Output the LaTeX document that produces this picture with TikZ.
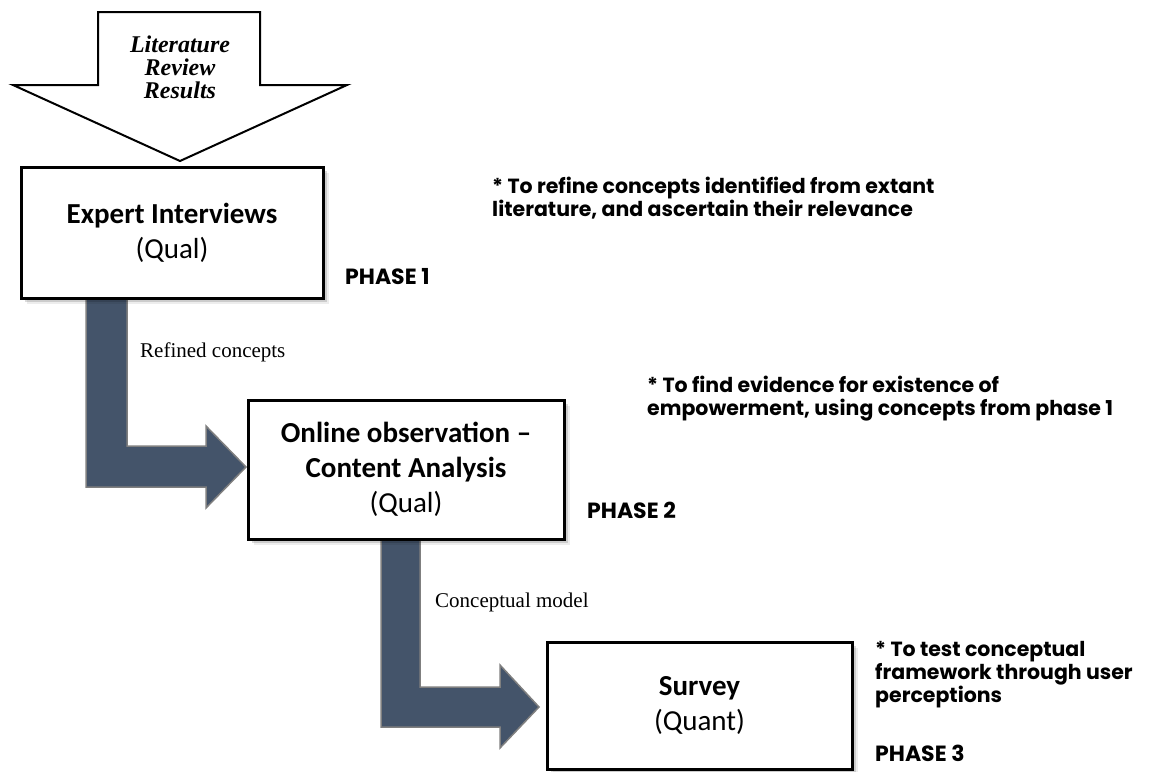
\documentclass[tikz,border=0pt]{standalone}
\usepackage{fontspec}
\setmainfont{Carlito}
\newfontfamily\serifface{Liberation Serif}
\newfontfamily\noteface{Poppins}
\usetikzlibrary{shadows}
\definecolor{arrowfill}{HTML}{44546A}
\definecolor{arrowedge}{HTML}{7F7F7F}
\tikzset{
  stagebox/.style={draw=black, line width=3pt, fill=white, align=center,
    font=\fontsize{29}{35}\selectfont,
    drop shadow={shadow xshift=2pt, shadow yshift=-2pt, opacity=.22, fill=black},
    drop shadow={shadow xshift=4pt, shadow yshift=-4pt, opacity=.14, fill=black},
    drop shadow={shadow xshift=6pt, shadow yshift=-6pt, opacity=.07, fill=black}},
  flowarrow/.style={fill=arrowfill, draw=arrowedge, line width=1.5pt, line join=miter},
  inarrow/.style={fill=white, draw=black, line width=2pt, line join=miter},
  flowlabel/.style={anchor=west, inner sep=0pt, font=\serifface\fontsize{21}{24}\selectfont},
  note/.style={anchor=west, inner sep=0pt, align=left, font=\noteface\bfseries\fontsize{20.5}{23}\selectfont},
  phase/.style={anchor=west, inner sep=0pt, font=\noteface\bfseries\fontsize{22}{24}\selectfont},
}
\begin{document}
\begin{tikzpicture}[x=1pt, y=-1pt]
  \useasboundingbox (0,0) rectangle (1155,771);

  % incoming block arrow from the literature review
  \draw[inarrow] (98,12) -- (260,12) -- (260,85) -- (347,85) -- (180,161)
    -- (13,85) -- (98,85) -- cycle;
  \node[align=center, inner sep=0pt,
    font=\serifface\bfseries\itshape\fontsize{24}{23}\selectfont] (lit) at (180,67)
    {Literature\\Review\\Results};

  % bent arrows between the phases (drawn first, boxes sit on top)
  \draw[flowarrow] (86,299) -- (127,299) -- (127,446) -- (206,446) -- (206,426)
    -- (246,467) -- (206,508) -- (206,487) -- (86,487) -- cycle;
  \draw[flowarrow] (381,540) -- (420,540) -- (420,687) -- (500,687) -- (500,665)
    -- (539,707) -- (500,748) -- (500,727) -- (381,727) -- cycle;

  % the three phases
  \node[stagebox, minimum width=302pt, minimum height=131pt] (expert) at (172,232.5)
    {\textbf{Expert Interviews}\\(Qual)};
  \node[stagebox, minimum width=316pt, minimum height=139pt] (online) at (406,469.5)
    {\textbf{Online observation --}\\\textbf{Content Analysis}\\(Qual)};
  \node[stagebox, minimum width=305pt, minimum height=127pt] (survey) at (699.5,705.5)
    {\textbf{Survey}\\(Quant)};

  % labels on the bent arrows
  \node[flowlabel] (refined) at (140,352) {Refined concepts};
  \node[flowlabel] (concept) at (435,602) {Conceptual model};

  % phase tags
  \node[phase] (p1) at (345,277) {PHASE 1};
  \node[phase] (p2) at (587,510) {PHASE 2};
  \node[phase] (p3) at (875,753) {PHASE 3};

  % purpose notes
  \node[note] (n1) at (492,198.5)
    {* To refine concepts identified from extant\\literature, and ascertain their relevance};
  \node[note] (n2) at (647,399)
    {* To find evidence for existence of\\empowerment, using concepts from phase 1};
  \node[note] (n3) at (875,675)
    {* To test conceptual\\framework through user\\perceptions};
\end{tikzpicture}
\end{document}
